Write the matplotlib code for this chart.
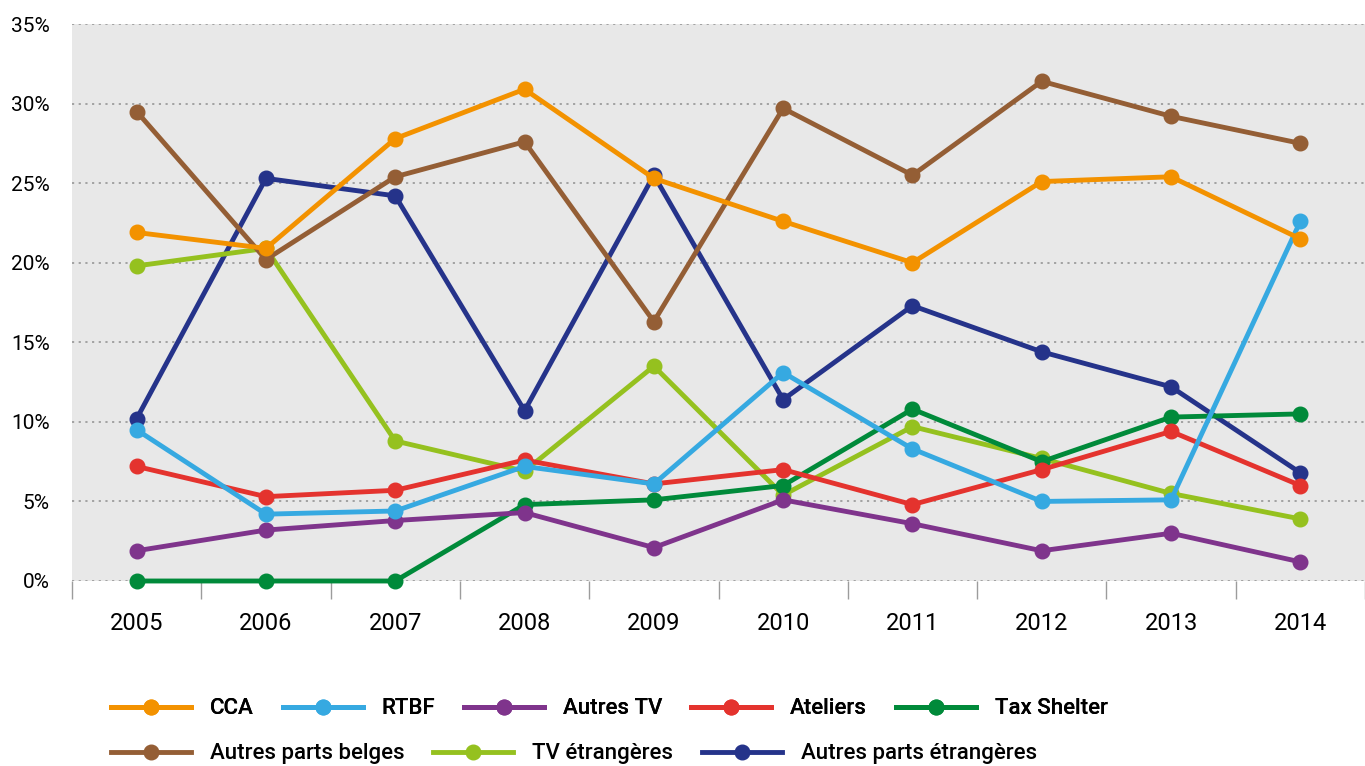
import numpy as np
import matplotlib
matplotlib.use("Agg")
import matplotlib.pyplot as plt
from matplotlib.ticker import FixedLocator

plt.rcParams['font.family'] = ['Roboto', 'DejaVu Sans']

years = ['2005', '2006', '2007', '2008', '2009', '2010', '2011', '2012', '2013', '2014']

cca = [21.9, 20.9, 27.8, 30.9, 25.3, 22.6, 20.0, 25.1, 25.4, 21.5]
rtbf = [9.5, 4.2, 4.4, 7.2, 6.1, 13.1, 8.3, 5.0, 5.1, 22.6]
autres_tv = [1.9, 3.2, 3.8, 4.3, 2.1, 5.1, 3.6, 1.9, 3.0, 1.2]
ateliers = [7.2, 5.3, 5.7, 7.6, 6.1, 7.0, 4.8, 7.0, 9.4, 6.0]
tax_shelter = [0.0, 0.0, 0.0, 4.8, 5.1, 6.0, 10.8, 7.5, 10.3, 10.5]
autres_belges = [29.5, 20.2, 25.4, 27.6, 16.3, 29.7, 25.5, 31.4, 29.2, 27.5]
tv_etrangeres = [19.8, 20.9, 8.8, 6.9, 13.5, 5.4, 9.7, 7.7, 5.5, 3.9]
autres_etrangeres = [10.2, 25.3, 24.2, 10.7, 25.5, 11.4, 17.3, 14.4, 12.2, 6.8]

series = [
    ('CCA', cca, '#F39200'),
    ('RTBF', rtbf, '#36A9E1'),
    ('Autres TV', autres_tv, '#7F348C'),
    ('Ateliers', ateliers, '#E4332E'),
    ('Tax Shelter', tax_shelter, '#008A3A'),
    ('Autres parts belges', autres_belges, '#945E35'),
    ('TV étrangères', tv_etrangeres, '#95C11F'),
    ('Autres parts étrangères', autres_etrangeres, '#25338A'),
]

fig = plt.figure(figsize=(13.65, 7.66), dpi=100)
ax = fig.add_axes([72 / 1365, 1 - 581 / 766, 1 - 72 / 1365, (581 - 24) / 766])
ax.set_facecolor('#E8E8E8')

x = np.arange(len(years))
handles = {}
# draw in reverse so CCA ends up on top
for i, (name, vals, col) in reversed(list(enumerate(series))):
    h, = ax.plot(x, vals, color=col, lw=3.5, marker='o', ms=10.5,
                 clip_on=False, zorder=3 + (len(series) - i), label=name)
    handles[name] = h

ax.set_xlim(-0.5, len(years) - 0.5)
ax.set_ylim(0, 35)
ax.set_yticks(np.arange(0, 36, 5))
ax.set_yticklabels([f'{v}%' for v in range(0, 36, 5)])
ax.yaxis.grid(True, linestyle=(0, (1.2, 2.5)), color='#9C9C9C', lw=1.3)
ax.set_axisbelow(True)
ax.tick_params(axis='y', length=0, pad=16, labelsize=15)

ax.set_xticks(x)
ax.set_xticklabels(years)
ax.xaxis.set_minor_locator(FixedLocator(np.arange(-0.5, len(years), 1.0)))
ax.tick_params(axis='x', which='major', length=0, pad=22, labelsize=17)
ax.tick_params(axis='x', which='minor', length=13, width=1, color='#9C9C9C')

for sp in ax.spines.values():
    sp.set_visible(False)

row1 = ['CCA', 'RTBF', 'Autres TV', 'Ateliers', 'Tax Shelter']
row2 = ['Autres parts belges', 'TV étrangères', 'Autres parts étrangères']
common = dict(frameon=False, loc='center left', borderaxespad=0, borderpad=0,
              handlelength=3.6, handletextpad=0.85, columnspacing=1.3,
              numpoints=1, prop={'size': 16, 'weight': 'medium'})
leg1 = fig.legend([handles[n] for n in row1], row1, ncol=5,
                  bbox_to_anchor=(111 / 1365, 1 - 709 / 766), **common)
fig.add_artist(leg1)
fig.legend([handles[n] for n in row2], row2, ncol=3,
           bbox_to_anchor=(111 / 1365, 1 - 754 / 766), **common)

fig.savefig('out.png', dpi=100)
